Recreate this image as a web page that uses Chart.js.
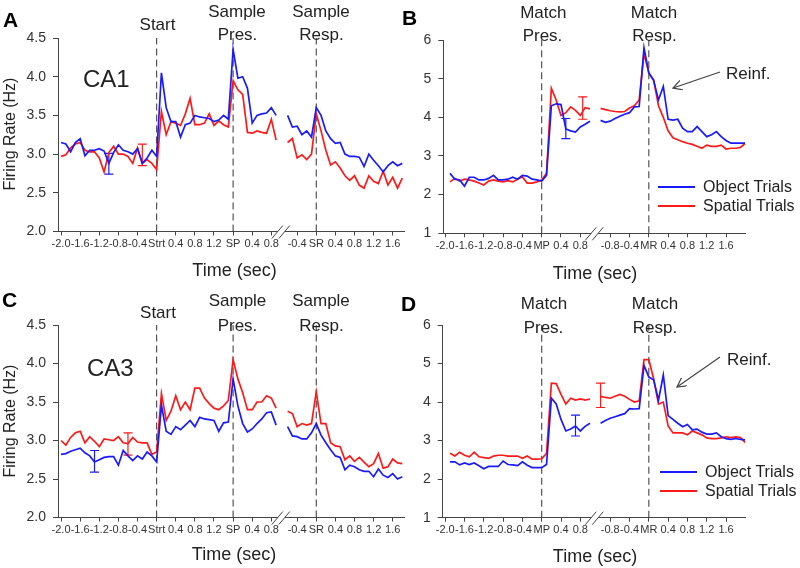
<!DOCTYPE html>
<html>
<head>
<meta charset="utf-8">
<script src="https://cdn.jsdelivr.net/npm/chart.js@4.4.1/dist/chart.umd.min.js"></script>
<style>
  body { margin: 0; background: #fff; }
  #fig { position: relative; width: 800px; height: 568px; overflow: hidden; font-family: "Liberation Sans", Arial, sans-serif; color: #222; }
  #fig canvas { position: absolute; }
  .t { position: absolute; line-height: 1; white-space: nowrap; }
  .c { transform: translateX(-50%); }
  .ev { font-size: 17px; }
  .big { font-size: 24px; }
  .let { font-size: 21px; font-weight: bold; color: #000; }
  .xt { font-size: 18px; }
  .yt { font-size: 16px; transform: translate(-50%, -50%) rotate(-90deg); }
  .lg { font-size: 16px; }
  .sw { position: absolute; height: 2px; width: 37px; }
  svg { position: absolute; left: 0; top: 0; }
</style>
</head>
<body>
<div id="fig">
  <canvas id="chartA" width="410" height="285" style="left:0;top:0"></canvas>
  <canvas id="chartC" width="410" height="288" style="left:0;top:280px"></canvas>
  <canvas id="chartB" width="400" height="285" style="left:400px;top:0"></canvas>
  <canvas id="chartD" width="400" height="288" style="left:400px;top:280px"></canvas>

  <!-- panel A -->
  <div class="t let" style="left:3px;top:9px">A</div>
  <div class="t ev c" style="left:157.5px;top:15.6px">Start</div>
  <div class="t ev c" style="left:237px;top:2.9px">Sample</div>
  <div class="t ev c" style="left:237.5px;top:26.3px">Pres.</div>
  <div class="t ev c" style="left:321px;top:2.9px">Sample</div>
  <div class="t ev c" style="left:321.5px;top:26.3px">Resp.</div>
  <div class="t big" style="left:83px;top:66.7px">CA1</div>
  <div class="t yt" style="left:9.5px;top:134px">Firing Rate (Hz)</div>
  <div class="t xt c" style="left:234.5px;top:260.8px">Time (sec)</div>

  <!-- panel B -->
  <div class="t let" style="left:402px;top:7.2px">B</div>
  <div class="t ev c" style="left:543.3px;top:3.9px">Match</div>
  <div class="t ev c" style="left:542.5px;top:27.3px">Pres.</div>
  <div class="t ev c" style="left:654px;top:3.9px">Match</div>
  <div class="t ev c" style="left:654.5px;top:27.3px">Resp.</div>
  <div class="t ev" style="left:726px;top:64.6px">Reinf.</div>
  <div class="sw" style="left:658px;top:185.7px;background:#1a1aff"></div>
  <div class="sw" style="left:658px;top:204.7px;background:#ff1a1a"></div>
  <div class="t lg" style="left:703px;top:178.9px">Object Trials</div>
  <div class="t lg" style="left:703px;top:197.9px">Spatial Trials</div>
  <div class="t xt c" style="left:595px;top:263.5px">Time (sec)</div>

  <!-- panel C -->
  <div class="t let" style="left:2px;top:289.2px">C</div>
  <div class="t ev c" style="left:158px;top:303.6px">Start</div>
  <div class="t ev c" style="left:237.5px;top:292.3px">Sample</div>
  <div class="t ev c" style="left:237.5px;top:316.6px">Pres.</div>
  <div class="t ev c" style="left:321px;top:292.3px">Sample</div>
  <div class="t ev c" style="left:321.5px;top:316.6px">Resp.</div>
  <div class="t big" style="left:87px;top:356.4px">CA3</div>
  <div class="t yt" style="left:9.5px;top:421px">Firing Rate (Hz)</div>
  <div class="t xt c" style="left:234px;top:544.8px">Time (sec)</div>

  <!-- panel D -->
  <div class="t let" style="left:401px;top:293.2px">D</div>
  <div class="t ev c" style="left:544px;top:294.6px">Match</div>
  <div class="t ev c" style="left:543.5px;top:318.6px">Pres.</div>
  <div class="t ev c" style="left:655px;top:294.6px">Match</div>
  <div class="t ev c" style="left:655px;top:318.6px">Resp.</div>
  <div class="t ev" style="left:727px;top:350.6px">Reinf.</div>
  <div class="sw" style="left:660px;top:470.7px;background:#1a1aff"></div>
  <div class="sw" style="left:660px;top:489.7px;background:#ff1a1a"></div>
  <div class="t lg" style="left:705px;top:463.9px">Object Trials</div>
  <div class="t lg" style="left:705px;top:482.9px">Spatial Trials</div>
  <div class="t xt c" style="left:595px;top:546.8px">Time (sec)</div>

  <svg width="800" height="568">
    <defs>
      <marker id="ah" markerWidth="10" markerHeight="10" refX="9" refY="5" orient="auto" markerUnits="userSpaceOnUse">
        <path d="M0,0 L9,5 L0,10" fill="none" stroke="#444" stroke-width="1.2"/>
      </marker>
    </defs>
    <line x1="720" y1="72" x2="673" y2="88" stroke="#444" stroke-width="1.2" marker-end="url(#ah)"/>
    <line x1="720" y1="357" x2="677" y2="387" stroke="#444" stroke-width="1.2" marker-end="url(#ah)"/>
  </svg>
</div>

<script>
const STEP = 0.1;
const FONT = '"Liberation Sans", Arial, sans-serif';
const BLUE = '#1a1aff';
const RED = '#ff1a1a';
const AXIS = '#444';

// sample phase time axis (A, C): Start, Sample Pres., Sample Resp.
const sampleEvents = [0, 1.6, 3.34];
const sampleStart1 = -2.0;   // first bin, relative to Start
const sampleStart2 = -0.6;   // first bin, relative to Sample Resp.
const sampleTicks1 = [-2.0, -1.6, -1.2, -0.8, -0.4, 0, 0.4, 0.8, 1.2, 1.6, 2.0, 2.4];
const sampleTicks2 = [-0.4, 0, 0.4, 0.8, 1.2, 1.6];
const sampleLabels = ['-2.0', '-1.6', '-1.2', '-0.8', '-0.4', 'Strt', '0.4', '0.8', '1.2', 'SP', '0.4', '0.8',
                      '-0.4', 'SR', '0.4', '0.8', '1.2', '1.6'];

// match phase time axis (B, D): Match Pres., Match Resp.
const matchEvents = [0, 2.22];
const matchStart1 = -1.9;
const matchStart2 = -1.0;
const matchTicks1 = [-2.0, -1.6, -1.2, -0.8, -0.4, 0, 0.4, 0.8];
const matchTicks2 = [-0.8, -0.4, 0, 0.4, 0.8, 1.2, 1.6];
const matchLabels = ['-2.0', '-1.6', '-1.2', '-0.8', '-0.4', 'MP', '0.4', '0.8',
                     '-0.8', '-0.4', 'MR', '0.4', '0.8', '1.2', '1.6'];

// A - CA1 sample phase
const aObj1 = [3.15, 3.13, 3.03, 3.15, 3.2, 2.98, 3.05, 3.05, 3.07, 3.04, 2.88, 3.02, 3.12, 3.05, 3.03, 3.0,
               3.07, 2.88, 2.95, 3.05, 2.97, 4.05, 3.6, 3.42, 3.42, 3.22, 3.38, 3.4, 3.5, 3.48, 3.47, 3.46,
               3.42, 3.44, 3.5, 3.45, 4.35, 3.98, 4.0, 3.85, 3.4, 3.5, 3.52, 3.53, 3.6, 3.5];
const aSpa1 = [2.97, 2.99, 3.08, 3.13, 3.15, 3.05, 3.03, 3.03, 2.95, 2.77, 3.02, 3.1, 3.0, 3.0, 2.97, 2.88,
               3.08, 2.88, 2.93, 2.88, 2.8, 3.55, 3.25, 3.42, 3.4, 3.37, 3.52, 3.72, 3.38, 3.38, 3.4, 3.52,
               3.37, 3.43, 3.38, 3.35, 3.95, 3.83, 3.77, 3.28, 3.27, 3.3, 3.28, 3.27, 3.45, 3.18];
const aObj2 = [3.5, 3.35, 3.36, 3.25, 3.3, 3.22, 3.6, 3.5, 3.3, 3.2, 3.14, 3.15, 3.0, 2.97, 2.97, 2.96,
               2.84, 3.0, 2.92, 2.85, 2.77, 2.85, 2.9, 2.85, 2.88];
const aSpa2 = [3.15, 3.2, 2.95, 2.99, 2.93, 3.0, 3.52, 3.3, 3.05, 2.86, 2.9, 2.82, 2.72, 2.66, 2.72, 2.6,
               2.56, 2.72, 2.65, 2.62, 2.78, 2.6, 2.7, 2.56, 2.69];
const aObjErr = [-1.0, 2.74, 3.01];   // position, low, high
const aSpaErr = [-0.3, 2.85, 3.13];

// C - CA3 sample phase
const cObj1 = [2.82, 2.83, 2.86, 2.88, 2.9, 2.84, 2.8, 2.72, 2.75, 2.78, 2.79, 2.79, 2.68, 2.87, 2.8, 2.74,
               2.8, 2.76, 2.85, 2.8, 2.72, 3.46, 3.12, 3.08, 3.18, 3.14, 3.2, 3.26, 3.18, 3.3, 3.28, 3.27,
               3.26, 3.12, 3.23, 3.24, 3.8, 3.45, 3.22, 3.11, 3.15, 3.22, 3.28, 3.36, 3.37, 3.2];
const cSpa1 = [3.0, 2.94, 3.04, 3.1, 3.12, 2.97, 3.05, 2.99, 2.92, 3.02, 3.01, 3.0, 3.05, 2.97, 2.96, 3.04,
               2.98, 2.97, 2.97, 2.82, 2.85, 3.61, 3.26, 3.38, 3.58, 3.4, 3.5, 3.4, 3.68, 3.68, 3.55, 3.48,
               3.42, 3.4, 3.45, 3.52, 4.05, 3.8, 3.62, 3.4, 3.4, 3.5, 3.5, 3.58, 3.55, 3.42];
const cObj2 = [3.18, 3.06, 3.05, 3.02, 3.02, 3.1, 3.22, 3.07, 2.97, 2.88, 2.8, 2.78, 2.62, 2.68, 2.66, 2.62,
               2.6, 2.6, 2.53, 2.63, 2.55, 2.52, 2.57, 2.5, 2.53];
const cSpa2 = [3.38, 3.35, 3.18, 3.22, 3.2, 3.22, 3.63, 3.22, 3.22, 2.97, 2.93, 2.92, 2.75, 2.8, 2.73, 2.78,
               2.72, 2.66, 2.7, 2.83, 2.64, 2.66, 2.76, 2.71, 2.7];
const cObjErr = [-1.3, 2.59, 2.87];
const cSpaErr = [-0.6, 2.81, 3.10];

// B - CA1 match phase
const bObj1 = [2.55, 2.4, 2.38, 2.22, 2.45, 2.45, 2.38, 2.38, 2.42, 2.5, 2.38, 2.38, 2.4, 2.45, 2.4, 2.5,
               2.48, 2.4, 2.38, 2.35, 2.5, 4.3, 4.35, 4.33, 3.7, 3.65, 3.62, 3.75, 3.82, 3.9];
const bSpa1 = [2.33, 2.42, 2.35, 2.4, 2.38, 2.35, 2.3, 2.25, 2.35, 2.38, 2.35, 2.33, 2.36, 2.33, 2.4, 2.46,
               2.3, 2.3, 2.33, 2.38, 2.55, 4.75, 4.45, 4.05, 4.12, 4.27, 4.18, 4.05, 4.25, 4.22];
const bObj2 = [3.92, 3.87, 3.9, 3.97, 4.03, 4.08, 4.12, 4.27, 4.28, 5.8, 5.15, 4.95, 4.45, 4.8, 3.95, 3.93,
               3.95, 3.72, 3.63, 3.63, 3.76, 3.63, 3.5, 3.55, 3.63, 3.5, 3.4, 3.33, 3.33, 3.33, 3.33];
const bSpa2 = [4.23, 4.2, 4.17, 4.15, 4.14, 4.15, 4.24, 4.3, 4.45, 5.65, 5.15, 4.97, 4.3, 4.0, 3.65, 3.47,
               3.42, 3.37, 3.33, 3.3, 3.25, 3.2, 3.28, 3.25, 3.25, 3.28, 3.18, 3.2, 3.2, 3.22, 3.33];
const bObjErr = [0.5, 3.45, 3.97];
const bSpaErr = [0.85, 3.95, 4.53];

// D - CA3 match phase
const dObj1 = [2.45, 2.45, 2.37, 2.42, 2.38, 2.42, 2.35, 2.27, 2.33, 2.33, 2.33, 2.47, 2.38, 2.37, 2.35, 2.45,
               2.36, 2.3, 2.3, 2.3, 2.38, 4.1, 3.95, 3.55, 3.25, 3.3, 3.38, 3.25, 3.37, 3.45];
const dSpa1 = [2.67, 2.6, 2.7, 2.62, 2.58, 2.7, 2.58, 2.56, 2.54, 2.6, 2.62, 2.62, 2.6, 2.6, 2.6, 2.54,
               2.6, 2.52, 2.52, 2.53, 2.67, 4.49, 4.48, 4.2, 3.95, 4.1, 4.05, 4.08, 4.05, 4.08];
const dObj2 = [3.45, 3.52, 3.58, 3.62, 3.66, 3.7, 3.83, 3.82, 3.83, 4.95, 4.65, 4.58, 4.05, 4.7, 3.65, 3.55,
               3.45, 3.36, 3.42, 3.28, 3.3, 3.22, 3.17, 3.17, 3.2, 3.1, 3.05, 3.03, 3.06, 3.03, 3.02];
const dSpa2 = [4.15, 4.12, 4.1, 4.15, 4.2, 4.15, 4.07, 4.0, 4.03, 5.1, 5.1, 4.6, 3.95, 4.0, 3.38, 3.2,
               3.2, 3.2, 3.15, 3.25, 3.2, 3.15, 3.07, 3.05, 3.05, 3.07, 3.1, 3.08, 3.1, 3.08, 2.95];
const dObjErr = [0.7, 3.12, 3.66];
const dSpaErr = [1.22, 3.86, 4.49];

// two segments joined by a null so the line breaks at the axis break
function seriesPoints(seg1, start1, seg2, start2, offset2) {
  const pts = seg1.map((v, i) => ({ x: start1 + i * STEP, y: v }));
  const end1 = start1 + (seg1.length - 1) * STEP;
  const begin2 = offset2 + start2;
  pts.push({ x: (end1 + begin2) / 2, y: null });
  seg2.forEach((v, i) => pts.push({ x: begin2 + i * STEP, y: v }));
  return pts;
}

const axisBreak = {
  id: 'axisBreak',
  afterDraw(chart, args, opts) {
    const { ctx, chartArea } = chart;
    const x = chart.scales.x.getPixelForValue(opts.at);
    const y = chartArea.bottom;
    ctx.save();
    ctx.fillStyle = '#fff';
    ctx.fillRect(x - 4, y - 2, 7, 4);
    ctx.strokeStyle = AXIS;
    ctx.lineWidth = 1;
    ctx.beginPath();
    ctx.moveTo(x - 10, y + 7); ctx.lineTo(x + 1, y - 6);
    ctx.moveTo(x - 3, y + 7); ctx.lineTo(x + 8, y - 6);
    ctx.stroke();
    ctx.restore();
  }
};

function errorBar(err, color) {
  return {
    data: [{ x: err[0], y: err[1] }, { x: err[0], y: err[2] }],
    borderColor: color, borderWidth: 1.2,
    pointStyle: 'line', pointRadius: 4.5, pointBorderColor: color, pointBorderWidth: 1.2,
    pointHoverRadius: 0
  };
}

function eventLine(x, yMin, yMax) {
  return {
    data: [{ x: x, y: yMin }, { x: x, y: yMax }],
    borderColor: AXIS, borderWidth: 1.1, borderDash: [7, 4], pointRadius: 0
  };
}

function makePanel(p) {
  const off2 = p.events[p.events.length - 1];
  const tickPos = p.ticks1.concat(p.ticks2.map(t => t + off2));
  const datasets = [
    { data: seriesPoints(p.obj1, p.start1, p.obj2, p.start2, off2), borderColor: BLUE, borderWidth: 1.7, pointRadius: 0 },
    { data: seriesPoints(p.spa1, p.start1, p.spa2, p.start2, off2), borderColor: RED, borderWidth: 1.7, pointRadius: 0 },
    errorBar(p.objErr, BLUE),
    errorBar(p.spaErr, RED)
  ];
  p.events.forEach(e => datasets.push(eventLine(e, p.yMin, p.yMax)));

  new Chart(document.getElementById(p.id), {
    type: 'line',
    data: { datasets: datasets },
    plugins: [axisBreak],
    options: {
      responsive: false,
      animation: false,
      devicePixelRatio: 1,
      spanGaps: false,
      layout: { padding: { left: 0, top: p.pad[0], right: p.pad[1], bottom: p.pad[2] } },
      plugins: {
        legend: { display: false },
        tooltip: { enabled: false },
        axisBreak: { at: p.breakAt }
      },
      elements: { line: { tension: 0 } },
      scales: {
        x: {
          type: 'linear',
          min: p.xMin,
          max: p.xMax,
          afterBuildTicks: s => { s.ticks = tickPos.map(v => ({ value: v })); },
          afterFit: s => { s.height = 30; s.paddingLeft = 0; s.paddingRight = 0; },
          ticks: {
            autoSkip: false, maxRotation: 0, minRotation: 0, padding: 2,
            color: '#333', font: { family: FONT, size: 11 },
            callback: (v, i) => p.labels[i]
          },
          grid: { drawOnChartArea: false, drawTicks: true, tickLength: 4, color: AXIS },
          border: { color: AXIS, width: 1 }
        },
        y: {
          min: p.yMin,
          max: p.yMax,
          afterFit: s => { s.width = p.yAxisW; s.paddingTop = 0; s.paddingBottom = 0; },
          ticks: {
            stepSize: p.yStep, padding: 7, color: '#333', font: { family: FONT, size: 14 },
            callback: v => v.toFixed(p.yDec)
          },
          grid: { drawOnChartArea: false, drawTicks: true, tickLength: 5, color: AXIS },
          border: { color: AXIS, width: 1 }
        }
      }
    }
  });
}

const samplePanel = {
  events: sampleEvents, start1: sampleStart1, start2: sampleStart2,
  ticks1: sampleTicks1, ticks2: sampleTicks2, labels: sampleLabels,
  yMin: 2, yMax: 4.5, yStep: 0.5, yDec: 1,
  xMin: -2.064, xMax: 5.182, yAxisW: 58, breakAt: 2.62
};
const matchPanel = {
  events: matchEvents, start1: matchStart1, start2: matchStart2,
  ticks1: matchTicks1, ticks2: matchTicks2, labels: matchLabels,
  yMin: 1, yMax: 6, yStep: 1, yDec: 0,
  xMax: 4.213, breakAt: 1.11
};

makePanel(Object.assign({}, samplePanel, {
  id: 'chartA', obj1: aObj1, spa1: aSpa1, obj2: aObj2, spa2: aSpa2, objErr: aObjErr, spaErr: aSpaErr,
  pad: [38, 2, 23.5]
}));
makePanel(Object.assign({}, samplePanel, {
  id: 'chartC', obj1: cObj1, spa1: cSpa1, obj2: cObj2, spa2: cSpa2, objErr: cObjErr, spaErr: cSpaErr,
  pad: [45, 2, 20.5]
}));
makePanel(Object.assign({}, matchPanel, {
  id: 'chartB', obj1: bObj1, spa1: bSpa1, obj2: bObj2, spa2: bSpa2, objErr: bObjErr, spaErr: bSpaErr,
  xMin: -2.039, yAxisW: 43.3, pad: [40, 55, 21.7]
}));
makePanel(Object.assign({}, matchPanel, {
  id: 'chartD', obj1: dObj1, spa1: dSpa1, obj2: dObj2, spa2: dSpa2, objErr: dObjErr, spaErr: dSpaErr,
  xMin: -2.052, yAxisW: 42.7, pad: [45, 55, 20.3]
}));
</script>
</body>
</html>
